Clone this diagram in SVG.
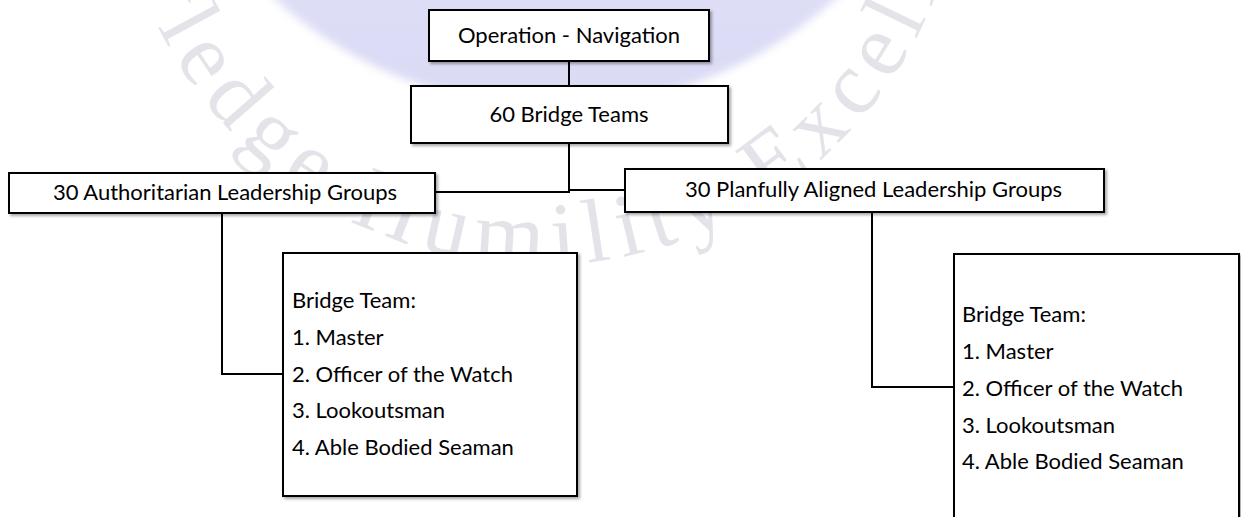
<svg xmlns="http://www.w3.org/2000/svg" xmlns:xlink="http://www.w3.org/1999/xlink" width="1241" height="517" viewBox="0 0 1241 517">
  <defs>
    <style>
      .box { fill: #ffffff; stroke: #000000; stroke-width: 2; filter: url(#shadow); }
      .lbl { font-family: Lato, "Liberation Sans", sans-serif; font-size: 22px; fill: #000000; }
      .mid { text-anchor: middle; }
      .conn { fill: none; stroke: #000000; stroke-width: 2; }
      .wm { font-family: "Liberation Serif", serif; font-size: 90px; letter-spacing: 10px; fill: #e3e3e9; }
    </style>
    <filter id="shadow" x="-5%" y="-5%" width="115%" height="130%">
      <feDropShadow dx="2" dy="2" stdDeviation="1.5" flood-color="#000000" flood-opacity="0.35"/>
    </filter>
    <filter id="soft" x="-10%" y="-10%" width="120%" height="120%">
      <feGaussianBlur stdDeviation="4"/>
    </filter>
    <linearGradient id="disc" x1="0" y1="0" x2="0" y2="1">
      <stop offset="0.6" stop-color="#e6f4fc"/>
      <stop offset="0.82" stop-color="#dfdff7"/>
      <stop offset="1" stop-color="#dadaf5"/>
    </linearGradient>
    <path id="wmPath" d="M 540,-585 A 425 425 0 1 0 540,265 A 425 425 0 1 0 540,-585"/>
  </defs>

  <rect x="0" y="0" width="1241" height="517" fill="#ffffff"/>

  <g id="watermark">
    <circle cx="555" cy="-311" r="418" fill="url(#disc)" filter="url(#soft)"/>
    <text class="wm"><textPath xlink:href="#wmPath" href="#wmPath" startOffset="50%" text-anchor="middle">Knowledge Humility Excellence</textPath></text>
  </g>

  <g id="connectors">
    <path class="conn" d="M569,61 V86"/>
    <path class="conn" d="M569,143 V192 H435"/>
    <path class="conn" d="M569,190 H625"/>
    <path class="conn" d="M222,213 V374 H283"/>
    <path class="conn" d="M872,212 V387 H954"/>
  </g>

  <g id="node-operation">
    <rect class="box" x="429" y="10" width="280" height="51"/>
    <text class="lbl mid" x="569" y="43">Operation - Navigation</text>
  </g>

  <g id="node-bridge-teams">
    <rect class="box" x="411" y="86" width="317" height="57"/>
    <text class="lbl mid" x="569" y="122">60 Bridge Teams</text>
  </g>

  <g id="node-authoritarian">
    <rect class="box" x="9" y="173" width="426" height="40"/>
    <text class="lbl mid" x="225" y="200">30 Authoritarian Leadership Groups</text>
  </g>

  <g id="node-planful">
    <rect class="box" x="625" y="169" width="479" height="43"/>
    <text class="lbl mid" x="873.5" y="197">30 Planfully Aligned Leadership Groups</text>
  </g>

  <g id="node-team-left">
    <rect class="box" x="283" y="253" width="294" height="243"/>
    <text class="lbl" x="292" y="308">Bridge Team:</text>
    <text class="lbl" x="292" y="345">1. Master</text>
    <text class="lbl" x="292" y="382">2. Officer of the Watch</text>
    <text class="lbl" x="292" y="418">3. Lookoutsman</text>
    <text class="lbl" x="292" y="455">4. Able Bodied Seaman</text>
  </g>

  <g id="node-team-right">
    <rect class="box" x="954" y="254" width="285" height="290"/>
    <text class="lbl" x="962" y="322">Bridge Team:</text>
    <text class="lbl" x="962" y="359">1. Master</text>
    <text class="lbl" x="962" y="396">2. Officer of the Watch</text>
    <text class="lbl" x="962" y="433">3. Lookoutsman</text>
    <text class="lbl" x="962" y="469">4. Able Bodied Seaman</text>
  </g>
</svg>
